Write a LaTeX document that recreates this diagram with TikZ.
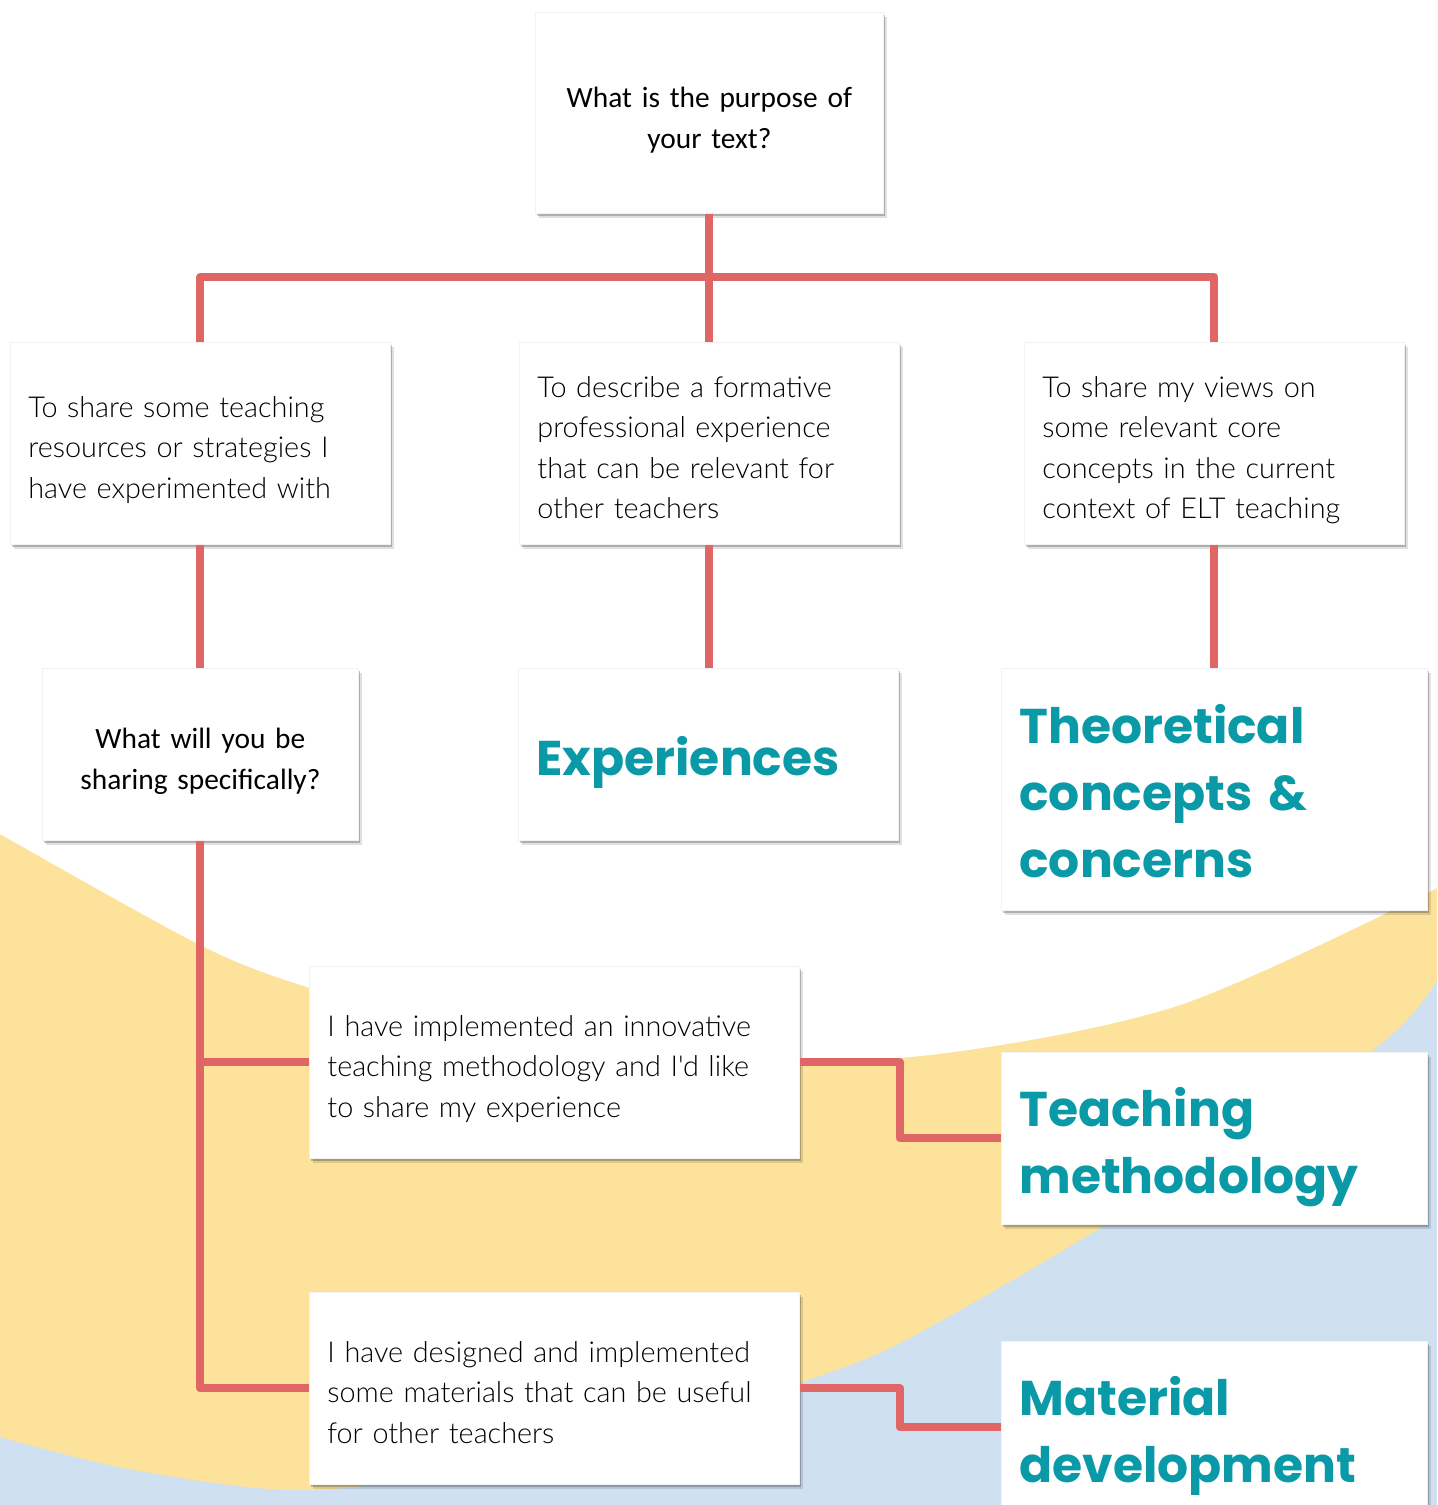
\documentclass[tikz,border=0pt]{standalone}
\usepackage{fontspec}
\newfontfamily\qfont{Carlito}
\newfontfamily\bodyfont{Lato Light}
\newfontfamily\headfont{Poppins}
\usetikzlibrary{shadows}
\definecolor{linered}{HTML}{E06666}
\definecolor{headteal}{HTML}{0A99A6}
\definecolor{bgyellow}{HTML}{FCE29A}
\definecolor{bgblue}{HTML}{CFE0F1}
\tikzset{
  card/.style={fill=white, draw=black!5, line width=0.4pt, anchor=north west, inner xsep=9pt, inner ysep=0pt,
    drop shadow={shadow xshift=1.6pt, shadow yshift=-2.2pt, opacity=0.12, fill=black},
    drop shadow={shadow xshift=0.8pt, shadow yshift=-1.2pt, opacity=0.22, fill=black}},
  bodytext/.style={card, align=left, font=\bodyfont\fontsize{14.4}{20.25}\selectfont, text=black,
    execute at begin node={\rule{0pt}{18.5pt}}, execute at end node={\rule[-4pt]{0pt}{4pt}}},
  qtext/.style={card, align=center, font=\qfont\fontsize{14.7}{20.5}\selectfont, text=black,
    execute at begin node={\rule{0pt}{17.5pt}}},
  headtext/.style={card, align=left, font=\headfont\bfseries\fontsize{24.4}{33.5}\selectfont, text=headteal,
    execute at begin node={\rule{0pt}{28.5pt}}, execute at end node={\rule[-7pt]{0pt}{7pt}}},
  conn/.style={draw=linered, line width=4pt, line join=round}
}
\begin{document}
\begin{tikzpicture}[x=0.5pt,y=-0.5pt]
\useasboundingbox (0,0) rectangle (1437,1505);
\clip (0,0) rectangle (1437,1505);
% background
\fill[bgblue] (0,0) rectangle (1437,1505);
\fill[bgyellow] (0,0) -- plot[smooth] coordinates {(0,1437) (134,1470) (312,1490) (560,1458) (700,1422) (800,1383) (900,1343) (1105,1225) (1373,1050) (1437,980)} -- (1437,0) -- cycle;
\fill[white] (0,0) -- plot[smooth] coordinates {(0,834) (200,945) (307,987) (450,1025) (650,1052) (900,1058) (1174,1007) (1437,888)} -- (1437,0) -- cycle;
% nodes
\node[qtext, text width=156pt, minimum height=100.5pt] (top) at (535,12) {What is the purpose of\\your text?};
\node[bodytext, text width=172pt, minimum height=101pt] (L2) at (10,342) {To share some teaching\\resources or strategies I\\have experimented with};
\node[bodytext, text width=172pt, minimum height=101pt] (M2) at (519,342) {To describe a formative\\professional experience\\that can be relevant for\\other teachers};
\node[bodytext, text width=172pt, minimum height=101pt] (R2) at (1024,342) {To share my views on\\some relevant core\\concepts in the current\\context of ELT teaching};
\node[qtext, text width=140pt, minimum height=86pt] (L3) at (42,668) {What will you be\\sharing specifically?};
\node[headtext, text width=172pt, minimum height=86pt] (M3) at (518,668) {Experiences};
\node[headtext, text width=195pt, minimum height=121pt] (R3) at (1001,668) {Theoretical\\concepts \&\\concerns};
\node[bodytext, text width=227pt, minimum height=96pt] (I4) at (309,966) {I have implemented an innovative\\teaching methodology and I'd like\\to share my experience};
\node[headtext, text width=195pt, minimum height=86pt] (T4) at (1001,1052) {Teaching\\methodology};
\node[bodytext, text width=227pt, minimum height=96pt] (D5) at (309,1292) {I have designed and implemented\\some materials that can be useful\\for other teachers};
\node[headtext, text width=195pt, minimum height=86pt] (M5) at (1001,1341) {Material\\development};
% connectors
\coordinate (hub) at (709,277);
\draw[conn] (top.south) -- (M2.north);
\draw[conn] (L2.north) |- (hub) -| (R2.north);
\draw[conn] (L2.south) -- (L3.north);
\draw[conn] (M2.south) -- (M2.south |- M3.north);
\draw[conn] (R2.south) -- (R2.south |- R3.north);
\draw[conn] (L3.south) |- (D5.west);
\draw[conn] (L3.south |- I4.west) -- (I4.west);
\draw[conn] (I4.east) -- ++(100,0) |- (T4.west);
\draw[conn] (D5.east) -- ++(100,0) |- (M5.west);
\end{tikzpicture}
\end{document}
